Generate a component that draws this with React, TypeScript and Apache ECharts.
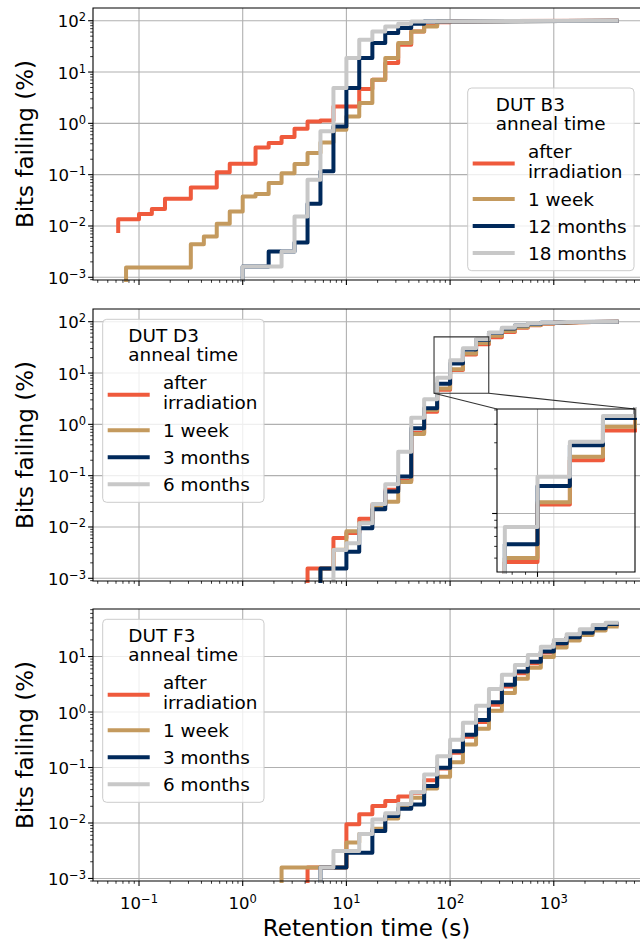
import React, { useEffect, useRef } from 'react';
import * as echarts from 'echarts';

// ---------- data (retention time s, bits failing %) ----------
const B3_AFTER: [number, number][] = [[0.063, 0.0073], [0.063, 0.0136], [0.1, 0.0171], [0.133, 0.0214], [0.178, 0.0339], [0.316, 0.0564], [0.562, 0.112], [0.75, 0.163], [1.33, 0.339], [1.78, 0.412], [2.37, 0.54], [3.16, 0.785], [4.22, 1.09], [5.62, 1.14], [7.5, 2.14], [13.3, 4.67], [17.8, 7.08], [23.7, 15], [31.6, 34], [42.2, 62], [56.2, 80], [75, 93], [100, 98], [133, 100], [4220, 100]];
const B3_1W: [number, number][] = [[0.075, 0.0005], [0.075, 0.00155], [0.316, 0.00443], [0.422, 0.00625], [0.562, 0.011], [0.75, 0.0192], [1.0, 0.0376], [1.33, 0.0419], [1.78, 0.0685], [2.37, 0.107], [3.16, 0.161], [4.22, 0.264], [5.62, 0.425], [7.5, 0.75], [10, 1.36], [13.3, 2.49], [17.8, 7.08], [23.7, 18.7], [31.6, 36.7], [42.2, 62], [56.2, 77], [75, 97], [100, 100], [4220, 100]];
const B3_12M: [number, number][] = [[1.0, 0.0005], [1.0, 0.00163], [1.78, 0.00319], [3.16, 0.00477], [4.22, 0.0271], [5.62, 0.116], [7.5, 0.87], [10, 4.87], [13.3, 18.7], [17.8, 36.7], [23.7, 57.5], [31.6, 72], [42.2, 87], [56.2, 97], [75, 100], [4220, 100]];
const B3_18M: [number, number][] = [[1.0, 0.0005], [1.0, 0.00163], [2.37, 0.00319], [3.16, 0.0153], [4.22, 0.0796], [5.62, 0.7], [7.5, 4.87], [10, 18.7], [13.3, 42.6], [17.8, 62], [23.7, 77], [31.6, 87], [42.2, 97], [56.2, 100], [4220, 100]];

const D3_AFTER: [number, number][] = [[4.22, 0.0005], [4.22, 0.00155], [7.5, 0.0061], [10, 0.0076], [13.3, 0.0145], [17.8, 0.027], [23.7, 0.053], [31.6, 0.08], [42.2, 0.69], [56.2, 1.76], [75, 4.7], [100, 11.5], [133, 22.9], [178, 36.3], [237, 50], [316, 63], [422, 76], [562, 85], [750, 91], [1000, 95], [1330, 97.5], [1780, 99], [2370, 100], [4220, 100]];
const D3_1W: [number, number][] = [[5.62, 0.0005], [5.62, 0.00155], [7.5, 0.0036], [10, 0.0083], [13.3, 0.012], [17.8, 0.025], [23.7, 0.031], [31.6, 0.075], [42.2, 0.65], [56.2, 1.9], [75, 5.0], [100, 11.9], [133, 24.1], [178, 38.5], [237, 53], [316, 66], [422, 78], [562, 86.5], [750, 92], [1000, 95.5], [1330, 98], [1780, 99.3], [2370, 100], [4220, 100]];
const D3_3M: [number, number][] = [[5.62, 0.0005], [5.62, 0.00155], [10, 0.0033], [13.3, 0.0095], [17.8, 0.0222], [23.7, 0.049], [31.6, 0.096], [42.2, 0.835], [56.2, 2.05], [75, 6.2], [100, 15.3], [133, 28.9], [178, 44], [237, 60], [316, 74], [422, 84], [562, 90.5], [750, 95], [1000, 97.5], [1330, 99], [1780, 100], [4220, 100]];
const D3_6M: [number, number][] = [[7.5, 0.0005], [7.5, 0.00358], [10, 0.0048], [13.3, 0.0118], [17.8, 0.0281], [23.7, 0.068], [31.6, 0.293], [42.2, 1.35], [56.2, 3.1], [75, 8.1], [100, 17.7], [133, 30.5], [178, 45.4], [237, 61.5], [316, 75.9], [422, 85.5], [562, 92], [750, 96], [1000, 98.5], [1330, 100], [4220, 100]];

const F3_AFTER: [number, number][] = [[4.22, 0.0005], [4.22, 0.00157], [10, 0.0095], [13.3, 0.0144], [17.8, 0.0202], [23.7, 0.0249], [31.6, 0.03], [42.2, 0.035], [56.2, 0.059], [75, 0.096], [100, 0.184], [133, 0.36], [178, 0.66], [237, 1.35], [316, 2.9], [422, 5.0], [562, 7.6], [750, 11.8], [1000, 16.8], [1330, 21.5], [1780, 26.5], [2370, 31.5], [3160, 37], [4220, 37]];
const F3_1W: [number, number][] = [[2.37, 0.0005], [2.37, 0.00157], [10, 0.00445], [13.3, 0.0063], [17.8, 0.0079], [23.7, 0.012], [31.6, 0.0189], [42.2, 0.0286], [56.2, 0.042], [75, 0.068], [100, 0.125], [133, 0.26], [178, 0.5], [237, 1.05], [316, 2.2], [422, 4.0], [562, 6.3], [750, 9.8], [1000, 14.5], [1330, 19.5], [1780, 24.5], [2370, 29.5], [3160, 35], [4220, 35]];
const F3_3M: [number, number][] = [[5.62, 0.0005], [5.62, 0.00157], [10, 0.0029], [17.8, 0.0072], [23.7, 0.0134], [31.6, 0.018], [42.2, 0.0216], [56.2, 0.0462], [75, 0.099], [100, 0.197], [133, 0.39], [178, 0.72], [237, 1.5], [316, 3.1], [422, 5.4], [562, 8.1], [750, 12.3], [1000, 17.4], [1330, 22.2], [1780, 27], [2370, 32.3], [3160, 38.6], [4220, 38.6]];
const F3_6M: [number, number][] = [[5.62, 0.0005], [5.62, 0.00157], [7.5, 0.00314], [13.3, 0.0063], [17.8, 0.0115], [23.7, 0.015], [31.6, 0.022], [42.2, 0.036], [56.2, 0.075], [75, 0.16], [100, 0.318], [133, 0.64], [178, 1.3], [237, 2.6], [316, 4.69], [422, 7.08], [562, 10.7], [750, 15.1], [1000, 19.9], [1330, 25.2], [1780, 31], [2370, 37], [3160, 40.8], [4220, 40.8]];

const LABELS_B3 = ['after\nirradiation', '1 week', '12 months', '18 months'];
const LABELS_DF = ['after\nirradiation', '1 week', '3 months', '6 months'];
const TITLES = ['DUT B3', 'DUT D3', 'DUT F3'];
const Y_TITLE = 'Bits failing (%)';
const X_TITLE = 'Retention time (s)';

// axis ranges & ticks
const X_MIN = 0.036, X_MAX = 7750;
const Y_MIN_AB = 0.000886, Y_MAX_AB = 177;
const Y_MIN_C = 0.0009, Y_MAX_C = 72;
const INSET_X = [70, 236];
const INSET_Y = [4.03, 50.7];
const X_MAJOR = [0.1, 1, 10, 100, 1000];
const Y_MAJOR_AB = [0.001, 0.01, 0.1, 1, 10, 100];
const Y_MAJOR_C = [0.001, 0.01, 0.1, 1, 10];
const INSET_X_MAJOR = [100];
const INSET_Y_MAJOR = [10];

const COLORS = ['#EF5A3C', '#C49A5E', '#00295B', '#C8C8C8'];
const FONT = "'DejaVu Sans', sans-serif";
const GRID_COLOR = '#b0b0b0';

function minorTicks(lo: number, hi: number) {
  const out: number[] = [];
  for (let e = -5; e <= 4; e++) for (let m = 2; m <= 9; m++) {
    const v = m * Math.pow(10, e);
    if (v > lo && v < hi) out.push(v);
  }
  return out;
}

const GRIDS = [
  { left: 93, top: 8, width: 553, height: 272 },
  { left: 93, top: 309, width: 553, height: 272 },
  { left: 93, top: 609, width: 553, height: 272 },
];
const INSET_GRID = { left: 497, top: 409, width: 138, height: 163 };

const PANELS = [
  { series: [B3_AFTER, B3_1W, B3_12M, B3_18M], labels: LABELS_B3, yMin: Y_MIN_AB, yMax: Y_MAX_AB, yMajor: Y_MAJOR_AB, legend: { x: 467.7, y: 88, w: 166.3, h: 182.7 } },
  { series: [D3_AFTER, D3_1W, D3_3M, D3_6M], labels: LABELS_DF, yMin: Y_MIN_AB, yMax: Y_MAX_AB, yMajor: Y_MAJOR_AB, legend: { x: 102.7, y: 319.3, w: 161.3, h: 183 } },
  { series: [F3_AFTER, F3_1W, F3_3M, F3_6M], labels: LABELS_DF, yMin: Y_MIN_C, yMax: Y_MAX_C, yMajor: Y_MAJOR_C, legend: { x: 102.7, y: 619.3, w: 161.3, h: 183 } },
];

const powLabel = (v: number) => {
  const e = Math.log10(v);
  const r = Math.round(e);
  if (Math.abs(e - r) > 1e-6) return '';
  const s = r < 0 ? '\u2212' + -r : String(r);
  return `{b|10}{s|${s}}`;
};
const RICH = {
  b: { fontSize: 16.5, fontFamily: FONT, color: '#000', verticalAlign: 'bottom' },
  s: { fontSize: 11.5, fontFamily: FONT, color: '#000', verticalAlign: 'bottom', padding: [0, 0, 7, 0] },
};

function tickSeries(gi: number, dir: 'x' | 'y', values: number[], other: number, len: number, lw: number, z = 6) {
  return {
    type: 'custom', xAxisIndex: gi, yAxisIndex: gi, silent: true, z, clip: false,
    data: values.map((v) => (dir === 'x' ? [v, other] : [other, v])),
    renderItem: (_p: any, api: any) => {
      const p = api.coord([api.value(0), api.value(1)]);
      return dir === 'x'
        ? { type: 'line', shape: { x1: p[0], y1: p[1], x2: p[0], y2: p[1] + len }, style: { stroke: '#000', lineWidth: lw } }
        : { type: 'line', shape: { x1: p[0] - len, y1: p[1], x2: p[0], y2: p[1] }, style: { stroke: '#000', lineWidth: lw } };
    },
  };
}

function gridLineSeries(gi: number, dir: 'x' | 'y', values: number[], other: number, z: number) {
  return {
    type: 'custom', xAxisIndex: gi, yAxisIndex: gi, silent: true, z, clip: false,
    data: values.map((v) => (dir === 'x' ? [v, other] : [other, v])),
    renderItem: (params: any, api: any) => {
      const c = params.coordSys;
      const p = api.coord([api.value(0), api.value(1)]);
      return dir === 'x'
        ? { type: 'line', shape: { x1: p[0], y1: c.y, x2: p[0], y2: c.y + c.height }, style: { stroke: GRID_COLOR, lineWidth: 1.1 } }
        : { type: 'line', shape: { x1: c.x, y1: p[1], x2: c.x + c.width, y2: p[1] }, style: { stroke: GRID_COLOR, lineWidth: 1.1 } };
    },
  };
}

function frameSeries(gi: number, x0: number, y0: number, z = 7) {
  return {
    type: 'custom', xAxisIndex: gi, yAxisIndex: gi, silent: true, z, clip: false,
    data: [[x0, y0]],
    renderItem: (params: any) => {
      const c = params.coordSys;
      return { type: 'rect', shape: { x: c.x, y: c.y, width: c.width, height: c.height }, style: { fill: 'none', stroke: '#000', lineWidth: 1.1 } };
    },
  };
}

const HIDDEN_AXIS = { axisLine: { show: false }, axisTick: { show: false }, splitLine: { show: false } };

function buildOption() {
  const grid: any[] = GRIDS.map((g) => ({ ...g, show: false, containLabel: false, outerBoundsMode: 'none' }));
  grid.push({ ...INSET_GRID, show: true, backgroundColor: 'rgba(255,255,255,0.6)', borderWidth: 0, z: 3, containLabel: false, outerBoundsMode: 'none' });

  const xAxis: any[] = [];
  const yAxis: any[] = [];
  const series: any[] = [];
  const graphic: any[] = [];

  PANELS.forEach((pn, i) => {
    xAxis.push({
      type: 'log', logBase: 10, gridIndex: i, min: X_MIN, max: X_MAX, splitNumber: 5, ...HIDDEN_AXIS,
      axisLabel: i === 2 ? { show: true, formatter: powLabel, rich: RICH, margin: 12 } : { show: false },
    });
    yAxis.push({
      type: 'log', logBase: 10, gridIndex: i, min: pn.yMin, max: pn.yMax, splitNumber: 5, ...HIDDEN_AXIS,
      axisLabel: { show: true, formatter: powLabel, rich: RICH, margin: 7 },
    });
    series.push(gridLineSeries(i, 'x', X_MAJOR, pn.yMin, 1));
    series.push(gridLineSeries(i, 'y', pn.yMajor, X_MIN, 1));
    pn.series.forEach((d, k) => {
      series.push({
        type: 'line', xAxisIndex: i, yAxisIndex: i, data: d, step: 'end', showSymbol: false, symbol: 'none',
        lineStyle: { color: COLORS[k], width: 4, cap: 'butt', join: 'round' }, itemStyle: { color: COLORS[k] },
        clip: true, silent: true, z: 2 + k * 0.01,
      });
    });
    series.push(tickSeries(i, 'x', X_MAJOR, pn.yMin, 4.9, 1.1));
    series.push(tickSeries(i, 'x', minorTicks(X_MIN, X_MAX), pn.yMin, 2.8, 0.8));
    series.push(tickSeries(i, 'y', pn.yMajor, X_MIN, 4.9, 1.1));
    series.push(tickSeries(i, 'y', minorTicks(pn.yMin, pn.yMax), X_MIN, 2.8, 0.8));
    series.push(frameSeries(i, X_MIN, pn.yMin));

    // legend
    const L = pn.legend;
    graphic.push({ type: 'rect', z: 10, shape: { x: L.x, y: L.y, width: L.w, height: L.h, r: 4 }, style: { fill: 'rgba(255,255,255,0.8)', stroke: '#cccccc', lineWidth: 1 } });
    const tx = L.x + L.w / 2 - 55;
    const txt = (x: number, y: number, text: string) => ({
      type: 'text', z: 11, x, y,
      style: { text, fontSize: 18.4, fontFamily: FONT, fill: '#000', align: 'left', verticalAlign: 'middle', textAlign: 'left', textVerticalAlign: 'middle' },
    });
    graphic.push(txt(tx, L.y + 16, TITLES[i]));
    graphic.push(txt(tx, L.y + 35, 'anneal time'));
    const entryY = [75.5, 111, 138, 165];
    pn.labels.forEach((lab, k) => {
      graphic.push({ type: 'line', z: 11, shape: { x1: L.x + 5, y1: L.y + entryY[k], x2: L.x + 47, y2: L.y + entryY[k] }, style: { stroke: COLORS[k], lineWidth: 4 } });
      const parts = lab.split('\n');
      if (parts.length === 2) {
        graphic.push(txt(L.x + 60.3, L.y + 63, parts[0]));
        graphic.push(txt(L.x + 60.3, L.y + 83.3, parts[1]));
      } else {
        graphic.push(txt(L.x + 60.3, L.y + entryY[k], lab));
      }
    });

    // y title
    graphic.push({
      type: 'text', z: 11, x: 25, y: GRIDS[i].top + GRIDS[i].height / 2, rotation: Math.PI / 2,
      style: { text: Y_TITLE, fontSize: 23, fontFamily: FONT, fill: '#000', align: 'center', verticalAlign: 'middle', textAlign: 'center', textVerticalAlign: 'middle' },
    });
  });

  // inset
  xAxis.push({ type: 'log', logBase: 10, gridIndex: 3, min: INSET_X[0], max: INSET_X[1], z: 4, ...HIDDEN_AXIS, axisLabel: { show: false } });
  yAxis.push({ type: 'log', logBase: 10, gridIndex: 3, min: INSET_Y[0], max: INSET_Y[1], z: 4, ...HIDDEN_AXIS, axisLabel: { show: false } });
  series.push(gridLineSeries(3, 'x', INSET_X_MAJOR, INSET_Y[0], 4));
  series.push(gridLineSeries(3, 'y', INSET_Y_MAJOR, INSET_X[0], 4));
  PANELS[1].series.forEach((d, k) => {
    series.push({
      type: 'line', xAxisIndex: 3, yAxisIndex: 3, data: d, step: 'end', showSymbol: false, symbol: 'none',
      lineStyle: { color: COLORS[k], width: 4, cap: 'butt', join: 'round' }, itemStyle: { color: COLORS[k] },
      clip: true, silent: true, z: 5 + k * 0.01,
    });
  });
  series.push(tickSeries(3, 'x', INSET_X_MAJOR, INSET_Y[0], 4.9, 1.1, 8));
  series.push(tickSeries(3, 'x', minorTicks(INSET_X[0], INSET_X[1]), INSET_Y[0], 2.8, 0.8, 8));
  series.push(tickSeries(3, 'y', INSET_Y_MAJOR, INSET_X[0], 4.9, 1.1, 8));
  series.push(tickSeries(3, 'y', minorTicks(INSET_Y[0], INSET_Y[1]), INSET_X[0], 2.8, 0.8, 8));
  series.push(frameSeries(3, INSET_X[0], INSET_Y[0], 9));

  // indicator box + connectors on middle panel
  series.push({
    type: 'custom', xAxisIndex: 1, yAxisIndex: 1, silent: true, z: 8, clip: false,
    data: [[INSET_X[0], INSET_Y[0]]],
    renderItem: (_p: any, api: any) => {
      const bl = api.coord([INSET_X[0], INSET_Y[0]]);
      const tr = api.coord([INSET_X[1], INSET_Y[1]]);
      const st = { stroke: '#333', lineWidth: 1.1, fill: 'none' };
      return {
        type: 'group',
        children: [
          { type: 'rect', shape: { x: bl[0], y: tr[1], width: tr[0] - bl[0], height: bl[1] - tr[1] }, style: st },
          { type: 'line', shape: { x1: bl[0], y1: bl[1], x2: INSET_GRID.left, y2: INSET_GRID.top }, style: st },
          { type: 'line', shape: { x1: tr[0], y1: bl[1], x2: INSET_GRID.left + INSET_GRID.width, y2: INSET_GRID.top }, style: st },
        ],
      };
    },
  });

  graphic.push({
    type: 'text', z: 11, x: GRIDS[2].left + GRIDS[2].width / 2 - 3, y: 928,
    style: { text: X_TITLE, fontSize: 23, fontFamily: FONT, fill: '#000', align: 'center', verticalAlign: 'middle', textAlign: 'center', textVerticalAlign: 'middle' },
  });

  return {
    animation: false,
    backgroundColor: '#fff',
    textStyle: { fontFamily: FONT },
    grid, xAxis, yAxis, series, graphic,
  };
}

export default function App() {
  const ref = useRef<HTMLDivElement>(null);
  useEffect(() => {
    if (!ref.current) return;
    const chart = echarts.init(ref.current, undefined, { renderer: 'svg' });
    chart.setOption(buildOption() as any);
    return () => chart.dispose();
  }, []);
  return <div ref={ref} style={{ position: 'absolute', left: 0, top: 0, width: 640, height: 942, background: '#fff' }} />;
}
